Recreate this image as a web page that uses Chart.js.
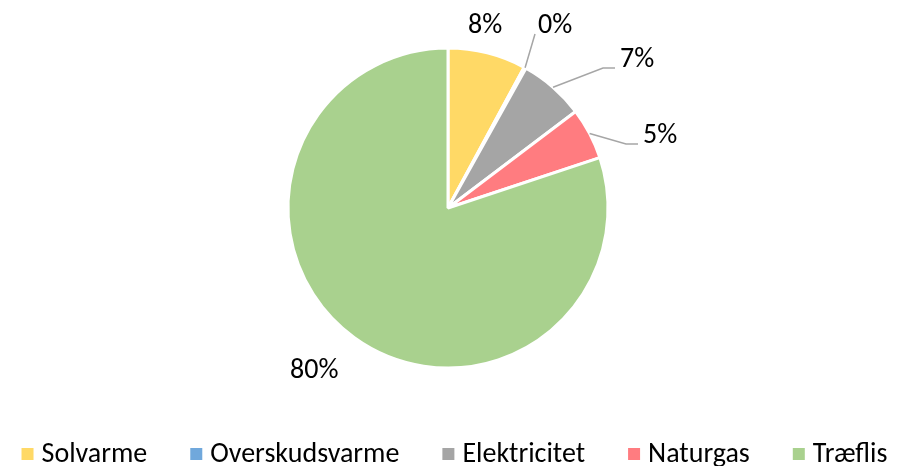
<!DOCTYPE html>
<html>
<head>
<meta charset="utf-8">
<script src="https://cdn.jsdelivr.net/npm/chart.js@4.4.1/dist/chart.umd.min.js"></script>
<style>
  html, body { margin: 0; padding: 0; background: #fff; }
  canvas { display: block; }
</style>
</head>
<body>
<canvas id="chart" width="898" height="466"></canvas>
<script>
const categories = ['Solvarme', 'Overskudsvarme', 'Elektricitet', 'Naturgas', 'Træflis'];
const shares = [7.9, 0.2, 6.6, 5.2, 80.1];
const sliceColors = ['#FFD966', '#70A8DC', '#A5A5A5', '#FF7C80', '#A9D18E'];

const FONT = 'Carlito, Calibri, Lato, sans-serif';
const LABEL_SIZE = 28;

// where each percent label sits, relative to the pie centre (left x, baseline y)
const labelSpots = [
    { dx: 20, dy: -175 },
    { dx: 90, dy: -175, leader: 'straight' },
    { dx: 172, dy: -141, leader: 'elbow' },
    { dx: 195, dy: -65, leader: 'elbow' },
    { dx: -158, dy: 170 }
];

const total = shares.reduce((a, b) => a + b, 0);
const pct = shares.map(v => Math.round(v / total * 100) + '%');

const pieLabels = {
    id: 'pieLabels',
    afterDatasetsDraw(chart) {
        const ctx = chart.ctx;
        const arcs = chart.getDatasetMeta(0).data;
        ctx.save();
        ctx.font = LABEL_SIZE + 'px ' + FONT;
        ctx.fillStyle = '#000';
        ctx.textBaseline = 'alphabetic';
        ctx.textAlign = 'left';
        arcs.forEach((arc, i) => {
            const p = arc.getProps(['x', 'y', 'startAngle', 'endAngle', 'outerRadius'], true);
            const spot = labelSpots[i];
            const lx = p.x + spot.dx;
            const ly = p.y + spot.dy;
            if (spot.leader) {
                const mid = (p.startAngle + p.endAngle) / 2;
                const ex = p.x + Math.cos(mid) * p.outerRadius;
                const ey = p.y + Math.sin(mid) * p.outerRadius;
                ctx.strokeStyle = '#A6A6A6';
                ctx.lineWidth = 1.5;
                ctx.beginPath();
                ctx.moveTo(ex, ey);
                if (spot.leader === 'elbow') {
                    ctx.lineTo(lx - 17, ly + 1);
                    ctx.lineTo(lx - 5, ly + 1);
                } else {
                    ctx.lineTo(lx - 3, ly + 1);
                }
                ctx.stroke();
            }
            ctx.fillText(pct[i], lx, ly);
        });
        ctx.restore();
    }
};

const bottomLegend = {
    id: 'bottomLegend',
    afterDraw(chart) {
        const ctx = chart.ctx;
        ctx.save();
        ctx.font = LABEL_SIZE + 'px ' + FONT;
        ctx.textBaseline = 'alphabetic';
        const box = 12, gapText = 8, gapItem = 43;
        const widths = categories.map(c => ctx.measureText(c).width);
        const full = widths.reduce((s, w) => s + box + gapText + w, 0) + gapItem * (categories.length - 1);
        let x = 454.5 - full / 2;
        categories.forEach((c, i) => {
            ctx.fillStyle = sliceColors[i];
            ctx.fillRect(x, 448, box, box);
            ctx.fillStyle = '#000';
            ctx.fillText(c, x + box + gapText, 462);
            x += box + gapText + widths[i] + gapItem;
        });
        ctx.restore();
    }
};

new Chart(document.getElementById('chart'), {
    type: 'pie',
    data: {
        labels: categories,
        datasets: [{
            data: shares,
            backgroundColor: sliceColors,
            borderColor: '#fff',
            borderWidth: 3
        }]
    },
    options: {
        responsive: false,
        animation: false,
        devicePixelRatio: 1,
        radius: 160,
        layout: { padding: { top: 48, bottom: 98, left: 288, right: 290 } },
        plugins: {
            legend: { display: false },
            tooltip: { enabled: false }
        }
    },
    plugins: [pieLabels, bottomLegend]
});
</script>
</body>
</html>
